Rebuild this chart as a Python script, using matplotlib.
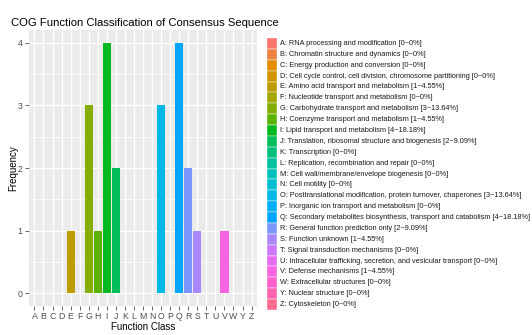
import numpy as np
import matplotlib
matplotlib.use("Agg")
import matplotlib.pyplot as plt
from matplotlib.patches import Rectangle

plt.rcParams['font.family'] = ['Liberation Sans', 'DejaVu Sans']

codes = ['A', 'B', 'C', 'D', 'E', 'F', 'G', 'H', 'I', 'J', 'K', 'L', 'M',
         'N', 'O', 'P', 'Q', 'R', 'S', 'T', 'U', 'V', 'W', 'Y', 'Z']
names = [
    'RNA processing and modification',
    'Chromatin structure and dynamics',
    'Energy production and conversion',
    'Cell cycle control, cell division, chromosome partitioning',
    'Amino acid transport and metabolism',
    'Nucleotide transport and metabolism',
    'Carbohydrate transport and metabolism',
    'Coenzyme transport and metabolism',
    'Lipid transport and metabolism',
    'Translation, ribosomal structure and biogenesis',
    'Transcription',
    'Replication, recombination and repair',
    'Cell wall/membrane/envelope biogenesis',
    'Cell motility',
    'Posttranslational modification, protein turnover, chaperones',
    'Inorganic ion transport and metabolism',
    'Secondary metabolites biosynthesis, transport and catabolism',
    'General function prediction only',
    'Function unknown',
    'Signal transduction mechanisms',
    'Intracellular trafficking, secretion, and vesicular transport',
    'Defense mechanisms',
    'Extracellular structures',
    'Nuclear structure',
    'Cytoskeleton',
]
counts = [0, 0, 0, 0, 1, 0, 3, 1, 4, 2, 0, 0, 0,
          0, 3, 0, 4, 2, 1, 0, 0, 1, 0, 0, 0]


def hcl_to_rgb(h, c, l):
    # polar CIE-Luv -> sRGB, the same scale ggplot uses for discrete hues
    hr = np.deg2rad(h)
    u, v = c * np.cos(hr), c * np.sin(hr)
    xn, yn, zn = 95.047, 100.0, 108.883
    y = yn * ((l + 16) / 116) ** 3 if l > 8 else yn * l / 903.3
    d = xn + 15 * yn + 3 * zn
    un, vn = 4 * xn / d, 9 * yn / d
    up = u / (13 * l) + un
    vp = v / (13 * l) + vn
    x = 9 * y * up / (4 * vp)
    z = y * (12 - 3 * up - 20 * vp) / (4 * vp)
    m = np.array([[3.2404542, -1.5371385, -0.4985314],
                  [-0.9692660, 1.8760108, 0.0415560],
                  [0.0556434, -0.2040259, 1.0572252]])
    rgb = m @ (np.array([x, y, z]) / 100)
    rgb = np.where(rgb <= 0.0031308, 12.92 * rgb,
                   1.055 * np.power(np.clip(rgb, 0, None), 1 / 2.4) - 0.055)
    return tuple(np.clip(rgb, 0, 1))


n = len(codes)
hues = np.linspace(15, 375, n + 1)[:n]
colors = [hcl_to_rgb(h, 100, 65) for h in hues]

total = sum(counts)
labels = []
for code, name, cnt in zip(codes, names, counts):
    pct = cnt / total * 100
    pct_txt = '0%' if cnt == 0 else '%.2f%%' % pct
    labels.append('%s: %s [%d~%s]' % (code, name, cnt, pct_txt))

fig = plt.figure(figsize=(5.32, 3.35), dpi=100)
W, H = 532, 335
ax = fig.add_axes([29 / W, 1 - 306 / H, 228 / W, 276 / H])

x = np.arange(1, n + 1)
ax.set_facecolor('#EBEBEB')
ax.bar(x, counts, width=0.9, color=colors, zorder=3)
ax.set_xlim(0.4, n + 0.6)
ax.set_ylim(-0.2, 4.2)
ax.set_xticks(x)
ax.set_xticklabels(codes)
ax.set_yticks([0, 1, 2, 3, 4])
ax.set_yticks([0.5, 1.5, 2.5, 3.5], minor=True)
ax.grid(which='major', color='white', linewidth=1.0, zorder=0)
ax.grid(which='minor', axis='y', color='white', linewidth=0.5, zorder=0)
ax.set_axisbelow(True)
for s in ax.spines.values():
    s.set_visible(False)
ax.tick_params(which='major', length=3, width=0.6, color='#4D4D4D',
               labelcolor='#4D4D4D', labelsize=6.3, pad=1.5)
ax.tick_params(which='minor', length=0)
ax.set_xlabel('Function Class', fontsize=7)
ax.xaxis.set_label_coords(0.5, -(322.5 - 306) / 276)
ax.set_ylabel('Frequency', fontsize=7)
ax.yaxis.set_label_coords(-(29 - 18) / 228, 0.5)
fig.text(11 / W, 1 - 26 / H, 'COG Function Classification of Consensus Sequence',
         fontsize=8.1, va='baseline', ha='left')

# legend keys as a stacked colour column
lax = fig.add_axes([267 / W, 1 - 310 / H, 10 / W, 272 / H])
lax.set_xlim(0, 1)
lax.set_ylim(n, 0)
lax.axis('off')
for i, (col, lab) in enumerate(zip(colors, labels)):
    lax.add_patch(Rectangle((0, i), 1, 1, facecolor=col, edgecolor='white',
                            linewidth=0.3))
    lax.text(1.3, i + 0.5, lab, fontsize=5.3, va='center', ha='left',
             color='#1A1A1A', clip_on=False)

fig.savefig('out.png', dpi=100)
